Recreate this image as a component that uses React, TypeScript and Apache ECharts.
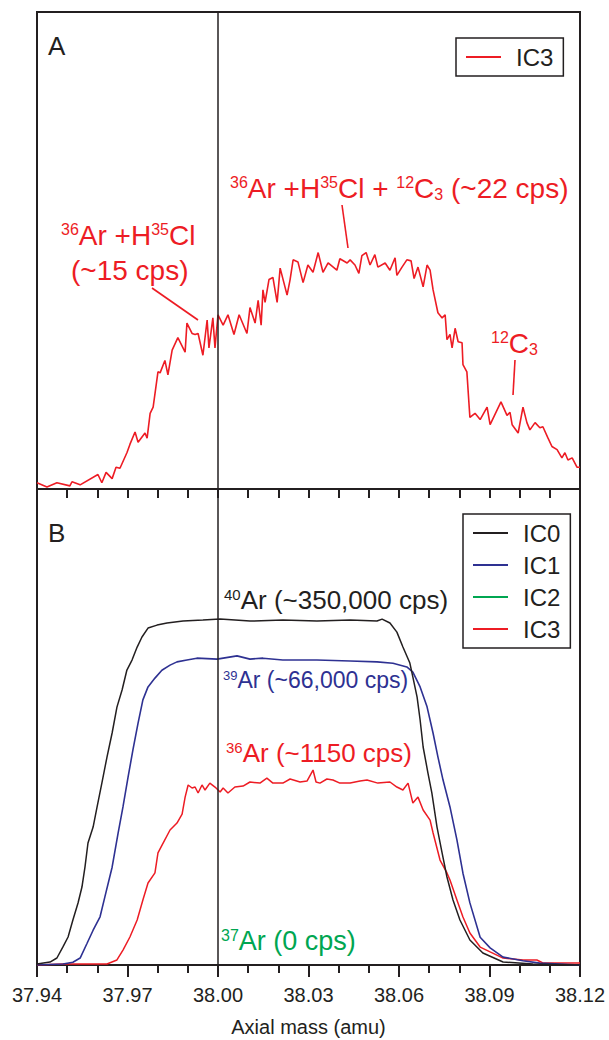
import React, { useEffect, useRef } from 'react';
import * as echarts from 'echarts';

const FONT = "'Liberation Sans', Arial, Helvetica, sans-serif";
const RED = '#ed1c24';
const BLUE = '#2e3192';
const GREEN = '#00a651';
const BLACK = '#231f20';

const X_MIN = 37.94;
const X_MAX = 38.12;
const tickLabels = ['37.94', '37.97', '38.00', '38.03', '38.06', '38.09', '38.12'];
const xAxisTitle = 'Axial mass (amu)';
const referenceMass = 38.0;

// Panel A: IC3 (cps) vs axial mass
const ic3A: [number, number][] = [
  [37.9400, 0.6], [37.9433, 0.2], [37.9466, 0.6], [37.9509, 0.3], [37.9516, 0.7], [37.9543, 0.4],
  [37.9602, 1.4], [37.9615, 0.6], [37.9629, 1.6], [37.9649, 1.0], [37.9662, 2.1], [37.9675, 2.0],
  [37.9698, 3.5], [37.9708, 4.3], [37.9725, 5.5], [37.9735, 4.5], [37.9758, 5.4], [37.9765, 4.9],
  [37.9775, 7.3], [37.9785, 7.9], [37.9801, 11.3], [37.9808, 11.2], [37.9824, 12.4], [37.9834, 11.0],
  [37.9848, 13.4], [37.9867, 14.6], [37.9891, 13.2], [37.9897, 16.0], [37.9914, 15.0], [37.9924, 14.9],
  [37.9934, 15.0], [37.9950, 12.9], [37.9964, 16.3], [37.9970, 13.6], [37.9983, 16.5], [37.9990, 13.6],
  [38.0000, 16.8], [38.0017, 15.8], [38.0033, 16.8], [38.0053, 14.9], [38.0070, 16.8], [38.0096, 15.0],
  [38.0106, 17.5], [38.0123, 16.0], [38.0133, 18.2], [38.0143, 15.8], [38.0149, 19.2], [38.0156, 18.0],
  [38.0169, 20.2], [38.0182, 20.4], [38.0196, 18.0], [38.0206, 21.3], [38.0229, 18.7], [38.0239, 20.2],
  [38.0249, 22.1], [38.0265, 21.9], [38.0282, 19.9], [38.0298, 21.6], [38.0315, 20.9], [38.0332, 22.8],
  [38.0348, 20.9], [38.0365, 21.8], [38.0394, 21.1], [38.0404, 22.2], [38.0428, 21.8], [38.0438, 22.1],
  [38.0454, 21.6], [38.0467, 20.8], [38.0477, 22.5], [38.0491, 22.8], [38.0504, 21.6], [38.0520, 22.6],
  [38.0530, 21.4], [38.0554, 21.8], [38.0570, 21.1], [38.0587, 22.3], [38.0593, 20.6], [38.0610, 21.4],
  [38.0626, 22.1], [38.0640, 22.0], [38.0650, 20.3], [38.0663, 21.4], [38.0680, 19.5], [38.0693, 21.6],
  [38.0703, 21.1], [38.0713, 19.2], [38.0729, 17.0], [38.0743, 16.5], [38.0753, 16.8], [38.0759, 14.4],
  [38.0769, 14.9], [38.0776, 13.6], [38.0786, 15.5], [38.0796, 14.2], [38.0809, 14.1], [38.0812, 12.0],
  [38.0825, 11.3], [38.0835, 6.9], [38.0852, 7.3], [38.0869, 6.7], [38.0892, 7.9], [38.0902, 6.2],
  [38.0938, 8.4], [38.0958, 7.1], [38.0968, 7.4], [38.0975, 6.2], [38.0995, 5.4], [38.1011, 7.9],
  [38.1024, 6.4], [38.1034, 5.7], [38.1051, 6.4], [38.1067, 5.9], [38.1077, 6.0], [38.1094, 4.9],
  [38.1107, 4.1], [38.1124, 3.8], [38.1140, 3.0], [38.1150, 3.5], [38.1160, 2.8], [38.1174, 3.0],
  [38.1190, 2.1], [38.1200, 2.1],
];

// Panel B: IC0 (40Ar, cps)
const ic0B: [number, number][] = [
  [37.9400, 1000], [37.9443, 3000], [37.9466, 7100], [37.9486, 18300], [37.9503, 28400], [37.9519, 45700],
  [37.9536, 62900], [37.9549, 79100], [37.9559, 99400], [37.9569, 123800], [37.9586, 140000],
  [37.9599, 160300], [37.9615, 184600], [37.9632, 211000], [37.9649, 235400], [37.9665, 261700],
  [37.9682, 279000], [37.9698, 299300], [37.9715, 309400], [37.9732, 322600], [37.9748, 332800],
  [37.9768, 341900], [37.9798, 344900], [37.9831, 347000], [37.9884, 349000], [37.9950, 350000],
  [38.0007, 351000], [38.0106, 349000], [38.0215, 350000], [38.0328, 349000], [38.0438, 350000],
  [38.0527, 349000], [38.0544, 351000], [38.0570, 347000], [38.0593, 337800], [38.0613, 322600],
  [38.0636, 306400], [38.0646, 292200], [38.0660, 271900], [38.0670, 248600], [38.0680, 221200],
  [38.0696, 194800], [38.0709, 174500], [38.0726, 140000], [38.0743, 113600], [38.0759, 89300],
  [38.0779, 65900], [38.0802, 45700], [38.0835, 25400], [38.0878, 12200], [38.0945, 3000],
  [38.1044, 1000], [38.1200, 0],
];

// Panel B: IC1 (39Ar, cps)
const ic1B: [number, number][] = [
  [37.9400, 0], [37.9486, 200], [37.9519, 600], [37.9543, 1500], [37.9566, 4700], [37.9586, 7500],
  [37.9609, 10400], [37.9625, 14700], [37.9649, 21100], [37.9669, 28500], [37.9685, 34100],
  [37.9702, 40600], [37.9718, 46400], [37.9735, 52200], [37.9751, 57200], [37.9768, 60000],
  [37.9791, 61900], [37.9814, 63600], [37.9841, 64700], [37.9864, 65400], [37.9897, 65800],
  [37.9930, 66200], [37.9997, 66000], [38.0063, 66700], [38.0106, 66000], [38.0149, 66200],
  [38.0215, 65800], [38.0328, 65800], [38.0438, 65600], [38.0527, 65400], [38.0580, 65100],
  [38.0626, 64300], [38.0646, 63200], [38.0670, 60000], [38.0693, 55700], [38.0713, 50000],
  [38.0729, 44900], [38.0746, 39900], [38.0769, 34100], [38.0792, 27000], [38.0812, 19800],
  [38.0835, 13400], [38.0869, 6000], [38.0902, 3700], [38.0945, 1700], [38.1011, 900],
  [38.1067, 400], [38.1200, 0],
];

// Panel B: IC2 (37Ar, cps)
const ic2B: [number, number][] = [[37.9400, 0], [38.1200, 0]];

// Panel B: IC3 (36Ar, cps)
const ic3B: [number, number][] = [
  [37.9400, 0], [37.9486, 6], [37.9632, 6], [37.9665, 32], [37.9685, 95], [37.9708, 178],
  [37.9732, 286], [37.9751, 413], [37.9768, 521], [37.9791, 585], [37.9801, 712], [37.9818, 775],
  [37.9841, 858], [37.9864, 902], [37.9881, 959], [37.9891, 1067], [37.9901, 1144], [37.9914, 1125],
  [37.9924, 1131], [37.9934, 1093], [37.9947, 1144], [37.9957, 1112], [37.9973, 1156], [37.9990, 1131],
  [38.0007, 1099], [38.0017, 1125], [38.0033, 1093], [38.0056, 1131], [38.0083, 1137], [38.0106, 1163],
  [38.0139, 1156], [38.0162, 1188], [38.0182, 1156], [38.0215, 1156], [38.0239, 1182], [38.0272, 1163],
  [38.0295, 1169], [38.0315, 1239], [38.0325, 1163], [38.0338, 1156], [38.0361, 1182], [38.0381, 1176],
  [38.0404, 1156], [38.0438, 1156], [38.0471, 1169], [38.0494, 1176], [38.0530, 1156], [38.0570, 1163],
  [38.0593, 1131], [38.0613, 1112], [38.0630, 1156], [38.0646, 1029], [38.0663, 1067], [38.0680, 985],
  [38.0703, 921], [38.0713, 839], [38.0736, 667], [38.0759, 585], [38.0769, 540], [38.0792, 413],
  [38.0812, 305], [38.0835, 203], [38.0869, 114], [38.0902, 83], [38.0945, 44], [38.1011, 32],
  [38.1057, 32], [38.1077, 13], [38.1200, 13],
];

function rich(f: number) {
  const sup = Math.round(f * 0.58);
  return {
    n: { fontSize: f, lineHeight: f, fontFamily: FONT },
    s: { fontSize: sup, lineHeight: Math.round(f * 0.6), verticalAlign: 'top', fontFamily: FONT },
    b: { fontSize: sup, lineHeight: Math.round(f * 0.26), verticalAlign: 'bottom', fontFamily: FONT },
  };
}

function label(x: number, y: number, text: string, f: number, color: string, align = 'left') {
  return {
    type: 'text',
    x,
    y,
    silent: true,
    style: {
      text,
      rich: rich(f),
      fill: color,
      fontSize: f,
      fontFamily: FONT,
      align,
      verticalAlign: 'middle',
    },
  };
}

function leader(x1: number, y1: number, x2: number, y2: number, color: string) {
  return { type: 'line', silent: true, shape: { x1, y1, x2, y2 }, style: { stroke: color, lineWidth: 1.6 } };
}

const refLine = {
  silent: true,
  symbol: ['none', 'none'],
  label: { show: false },
  lineStyle: { color: BLACK, width: 1.5, type: 'solid' },
  data: [{ xAxis: referenceMass }],
};

const tickStyle = { color: BLACK, width: 2 };

export default function App() {
  const ref = useRef<HTMLDivElement>(null);
  useEffect(() => {
    if (!ref.current) return;
    const chart = echarts.init(ref.current, null, { renderer: 'svg' });
    const lineSeries = (name: string, data: [number, number][], xi: number, yi: number, color: string, w: number, extra: any = {}) => ({
      name,
      type: 'line',
      xAxisIndex: xi,
      yAxisIndex: yi,
      data,
      symbol: 'none',
      showSymbol: false,
      lineStyle: { color, width: w },
      itemStyle: { color },
      emphasis: { disabled: true },
      ...extra,
    });
    const legendBase = {
      orient: 'vertical',
      icon: 'rect',
      itemWidth: 35,
      itemHeight: 2,
      itemGap: 8,
      padding: [7, 10, 7, 10],
      borderColor: BLACK,
      borderWidth: 1.5,
      selectedMode: false,
      textStyle: { fontSize: 24, color: BLACK, fontFamily: FONT, padding: [0, 0, 0, 10] },
    };
    chart.setOption({
      animation: false,
      backgroundColor: '#ffffff',
      grid: [
        { left: 37, top: 12, width: 543, height: 477, show: true, borderColor: BLACK, borderWidth: 2, backgroundColor: 'transparent' },
        { left: 37, top: 489, width: 543, height: 476, show: true, borderColor: BLACK, borderWidth: 2, backgroundColor: 'transparent' },
      ],
      xAxis: [
        {
          type: 'value', gridIndex: 0, min: X_MIN, max: X_MAX, interval: 0.01,
          axisLine: { show: false },
          axisTick: { show: true, inside: false, length: 9, lineStyle: tickStyle },
          axisLabel: { show: false },
          splitLine: { show: false },
        },
        {
          type: 'value', gridIndex: 1, min: X_MIN, max: X_MAX, interval: 0.03,
          axisLine: { show: false },
          axisTick: { show: true, inside: false, length: 12, lineStyle: tickStyle },
          minorTick: { show: true, splitNumber: 3, length: 8, lineStyle: tickStyle },
          axisLabel: {
            show: true,
            margin: 20,
            fontSize: 20,
            color: BLACK,
            fontFamily: FONT,
            formatter: (v: number) => tickLabels.find((t) => Math.abs(parseFloat(t) - v) < 1e-6) ?? '',
          },
          splitLine: { show: false },
          minorSplitLine: { show: false },
        },
      ],
      yAxis: [
        { type: 'value', gridIndex: 0, min: 0, max: 46, show: false },
        { type: 'value', gridIndex: 1, min: 0, max: 483000, show: false },
        { type: 'value', gridIndex: 1, min: 0, max: 102700, show: false },
        { type: 'value', gridIndex: 1, min: 0, max: 3025, show: false },
      ],
      legend: [
        { ...legendBase, data: ['IC3'], left: 456, top: 38 },
        { ...legendBase, data: ['IC0', 'IC1', 'IC2', 'IC3'], left: 463, top: 514 },
      ],
      series: [
        lineSeries('IC3', ic3A, 0, 0, RED, 1.6, { markLine: refLine }),
        lineSeries('IC2', ic2B, 1, 3, GREEN, 1.5, { z: -1 }),
        lineSeries('IC3', ic3B, 1, 3, RED, 1.5),
        lineSeries('IC1', ic1B, 1, 2, BLUE, 1.6),
        lineSeries('IC0', ic0B, 1, 1, BLACK, 1.5, { markLine: refLine }),
      ],
      graphic: [
        label(48, 46, '{n|A}', 26, BLACK),
        label(230, 188, '{s|36}{n|Ar +H}{s|35}{n|Cl + }{s|12}{n|C}{b|3}{n| (~22 cps)}', 28, RED),
        label(61, 235, '{s|36}{n|Ar +H}{s|35}{n|Cl}', 28, RED),
        label(71, 270, '{n|(~15 cps)}', 28, RED),
        label(491, 343, '{s|12}{n|C}{b|3}', 28, RED),
        leader(152, 288, 198, 320, RED),
        leader(342, 205, 348, 248, RED),
        leader(515, 360, 513, 395, RED),
        label(48, 533, '{n|B}', 26, BLACK),
        label(224, 600, '{s|40}{n|Ar (~350,000 cps)}', 26, BLACK),
        label(223, 680, '{s|39}{n|Ar (~66,000 cps)}', 23, BLUE),
        label(226, 753, '{s|36}{n|Ar (~1150 cps)}', 26, RED),
        label(221, 941, '{s|37}{n|Ar (0 cps)}', 27, GREEN),
        label(308.5, 1027, `{n|${xAxisTitle}}`, 20, BLACK, 'center'),
      ],
    });
    return () => chart.dispose();
  }, []);
  return <div ref={ref} style={{ position: 'absolute', left: 0, top: 0, width: 609, height: 1040 }} />;
}
